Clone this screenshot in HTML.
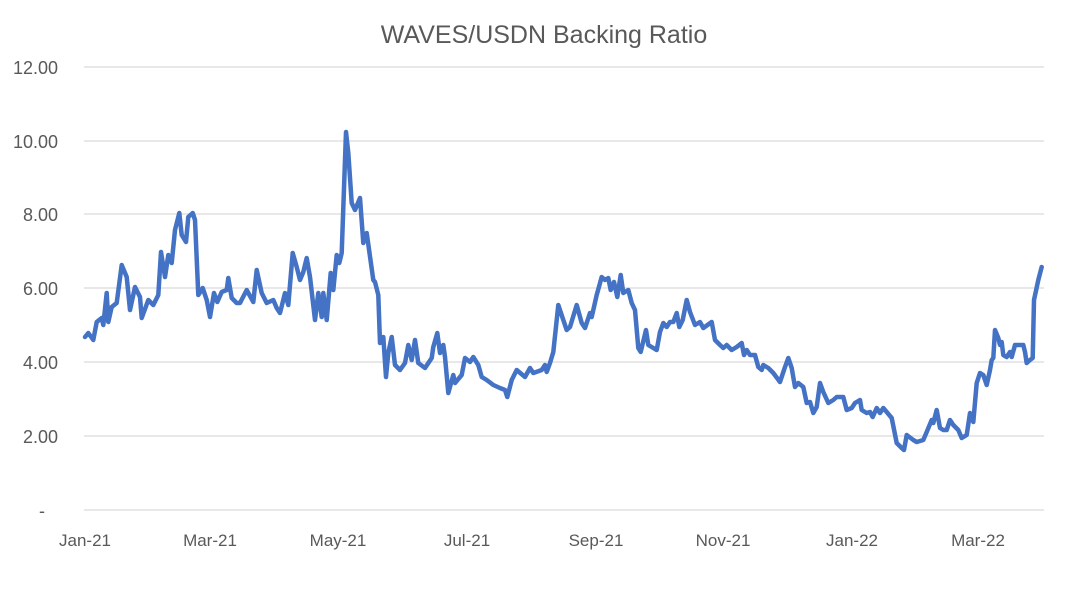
<!DOCTYPE html>
<html><head><style>
body{margin:0;background:#fff;}
svg text{font-family:"Liberation Sans",sans-serif;fill:#595959;}
</style></head><body>
<svg width="1080" height="595" viewBox="0 0 1080 595" xmlns="http://www.w3.org/2000/svg">
<rect width="1080" height="595" fill="#fff"/>
<text x="544" y="43" font-size="25" text-anchor="middle">WAVES/USDN Backing Ratio</text>
<g stroke="#d9d9d9" stroke-width="1.2">
<line x1="84" x2="1044" y1="67" y2="67"/><line x1="84" x2="1044" y1="141" y2="141"/>
<line x1="84" x2="1044" y1="214" y2="214"/><line x1="84" x2="1044" y1="288" y2="288"/>
<line x1="84" x2="1044" y1="362" y2="362"/><line x1="84" x2="1044" y1="436" y2="436"/>
<line x1="84" x2="1044" y1="510" y2="510"/>
</g>
<g font-size="18" text-anchor="end">
<text x="58" y="74">12.00</text><text x="58" y="148">10.00</text><text x="58" y="221">8.00</text>
<text x="58" y="295">6.00</text><text x="58" y="369">4.00</text><text x="58" y="443">2.00</text>
<text x="45" y="517">-</text>
</g>
<g font-size="17" text-anchor="middle">
<text x="85" y="546">Jan-21</text><text x="210" y="546">Mar-21</text><text x="338" y="546">May-21</text>
<text x="467" y="546">Jul-21</text><text x="596" y="546">Sep-21</text><text x="723" y="546">Nov-21</text>
<text x="852" y="546">Jan-22</text><text x="978" y="546">Mar-22</text>
</g>
<polyline fill="none" stroke="#4472C4" stroke-width="4.5" stroke-linejoin="round" stroke-linecap="round" points="
85,337 88.3,333 93.3,340 96.7,322 101.7,318 103.3,325 106.7,293 108.3,322 111.7,307 116.7,303 121.7,265 126.7,277 130,310 135,287 140,297 141.7,318 148.3,300 153.3,305 158.3,295 161,252 165,277 168.3,255 171.7,263 175,230 179.3,213 181.7,235 186,242 188.3,217 192.7,213 195,220 198.3,295 202.7,288 206.7,300 210,317 214,293 217.3,302 221.7,292 226.7,290 228.3,278 231.7,298 236.7,303 240,303 246.7,290 253.3,302 256.7,270 261.7,293 266.7,303 273.3,300 276.7,308 280,313 285,293 288.3,305 292.7,253 296.7,267 300,280 303.3,272 306.7,258 310,277 315,320 318.3,293 321.7,317 323.3,293 326.7,320 330.7,273 333.3,290 336.7,255 339.3,263 341.7,253 346,132 348.3,153 351.7,203 355,210 360,198 363.3,243 366.7,233 373.3,280 375,282 378.3,295 380,343 383.3,337 386,377 388.3,353 391.7,337 395,365 400,370 405,363 408.3,345 411.7,360 415,340 418.3,363 425,368 431.7,358 433.3,347 437.3,333 440,353 443.3,345 445,357 448.3,393 453.3,375 455,383 461.7,375 465,358 470,362 473.3,357 478.3,365 481.7,377 486.7,380 493.3,385 500,388 505,390 507.3,397 511.7,380 516.7,370 525,377 530,368 533.3,373 541.7,370 545,365 546.7,372 550,363 553.3,352 558.3,305 563.3,320 566.7,330 570,327 576.7,305 581.7,323 585,328 590,313 591.7,317 596.7,295 601.7,277 605,280 608.3,278 610.7,290 614,282 617.3,297 620.7,275 623.3,293 628.3,290 631.7,303 635,310 638.3,348 640.7,352 646,330 648.3,345 653.3,348 656.7,350 660,332 663.3,323 666.7,327 670,322 673.3,322 676.7,313 679.3,327 682.7,320 686.7,300 690,312 695,325 700,322 703.3,328 711.7,322 715,340 720,345 723.3,348 726.7,345 731.7,350 736.7,347 741.7,343 744,355 746.7,350 750,355 755,355 758.3,367 761.7,370 763.3,365 768.3,368 773.3,373 780,382 785,367 788.3,358 791.7,368 795,387 798.3,383 803.3,387 806.7,403 810,402 813.3,413 816.7,407 820,383 823.3,392 828.3,403 833.3,400 836.7,397 843.3,397 846.7,410 851.7,408 855,403 860,400 861.7,410 866.7,413 870,412 872.7,417 876.7,408 880,413 883.3,408 886.7,412 891.7,418 896.7,443 901.7,448 904,450 906.7,435 913.3,440 916.7,442 923.3,440 926.7,432 931.7,420 933.3,423 936.7,410 940,428 943.3,430 946.7,430 950,420 953.3,425 958.3,430 961.7,438 966.7,435 970,413 973.3,422 976.7,383 980,373 983.3,375 986.7,385 990,370 991.7,360 993.3,358 995,330 998.3,338 1000,345 1001.7,342 1003.3,355 1006.7,357 1010,352 1011.7,357 1015,345 1023.3,345 1025,352 1026.7,363 1030,360 1032.7,358 1034,300 1038.3,280 1041.7,267"/>
</svg>
</body></html>
